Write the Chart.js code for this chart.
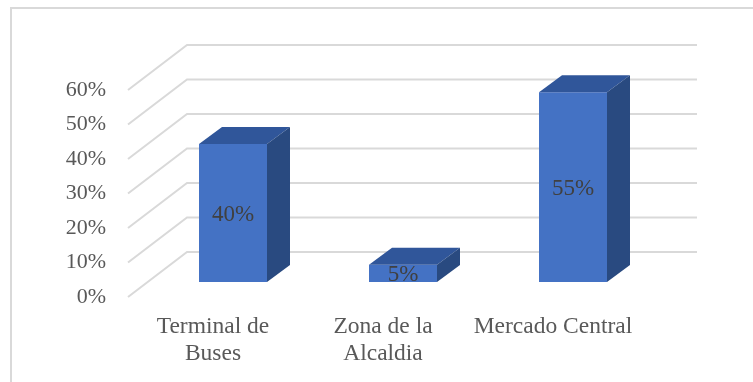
<!DOCTYPE html>
<html>
<head>
<meta charset="utf-8">
<script src="https://cdn.jsdelivr.net/npm/chart.js@4.4.0/dist/chart.umd.min.js"></script>
<style>
  body { margin: 0; background: #fff; }
  #wrap { width: 753px; height: 382px; }
</style>
</head>
<body>
<div id="wrap"><canvas id="chart" width="753" height="382"></canvas></div>
<script>
// Data
const categories = [['Terminal de', 'Buses'], ['Zona de la', 'Alcaldia'], 'Mercado Central'];
const percentages = [40, 5, 55];
const yTicks = [0, 10, 20, 30, 40, 50, 60];

// 3D look
const BACK = { dx: 59, dy: -45 };   // front plane -> back wall
const SHIFT = { dx: 20, dy: -15 };  // front plane -> bar front face
const DEPTH = { dx: 23, dy: -17 };  // bar front face -> bar back
const FRONT = '#4472c4';
const TOP = '#30569a';
const SIDE = '#294a80';

const frame = {
  id: 'frame',
  beforeDraw(chart) {
    const ctx = chart.ctx;
    ctx.save();
    ctx.strokeStyle = '#d9d9d9';
    ctx.lineWidth = 2;
    ctx.beginPath();
    ctx.moveTo(11, 382);
    ctx.lineTo(11, 8);
    ctx.lineTo(753, 8);
    ctx.stroke();
    ctx.restore();
  }
};

// grid: diagonal on the side wall + horizontal line on back wall
const walls = {
  id: 'walls',
  beforeDatasetsDraw(chart) {
    const ctx = chart.ctx;
    const y = chart.scales.y;
    const area = chart.chartArea;
    ctx.save();
    ctx.strokeStyle = '#d9d9d9';
    ctx.lineWidth = 2;
    ctx.beginPath();
    y.ticks.forEach(t => {
      const py = y.getPixelForValue(t.value);
      ctx.moveTo(area.left, py);
      ctx.lineTo(area.left + BACK.dx, py + BACK.dy);
      ctx.lineTo(area.right + BACK.dx, py + BACK.dy);
    });
    ctx.stroke();
    ctx.restore();
  }
};

const boxes = {
  id: 'boxes',
  beforeDatasetDraw(chart) {
    chart.ctx.save();
    chart.ctx.translate(SHIFT.dx, SHIFT.dy);
  },
  afterDatasetDraw(chart, args) {
    const ctx = chart.ctx;
    const meta = args.meta;
    meta.data.forEach((bar, i) => {
      const l = bar.x - bar.width / 2;
      const r = bar.x + bar.width / 2;
      const t = bar.y;
      const b = bar.base;
      // top
      ctx.fillStyle = TOP;
      ctx.beginPath();
      ctx.moveTo(l, t);
      ctx.lineTo(l + DEPTH.dx, t + DEPTH.dy);
      ctx.lineTo(r + DEPTH.dx, t + DEPTH.dy);
      ctx.lineTo(r, t);
      ctx.closePath();
      ctx.fill();
      // side
      ctx.fillStyle = SIDE;
      ctx.beginPath();
      ctx.moveTo(r, t);
      ctx.lineTo(r + DEPTH.dx, t + DEPTH.dy);
      ctx.lineTo(r + DEPTH.dx, b + DEPTH.dy);
      ctx.lineTo(r, b);
      ctx.closePath();
      ctx.fill();
      // label
      ctx.fillStyle = '#404040';
      ctx.font = '23px "Liberation Serif"';
      ctx.textAlign = 'center';
      ctx.textBaseline = 'middle';
      ctx.fillText(percentages[i] + '%', bar.x, (t + b) / 2 + 2);
    });
    ctx.restore();
  }
};

new Chart(document.getElementById('chart'), {
  type: 'bar',
  data: {
    labels: categories,
    datasets: [{
      data: percentages,
      backgroundColor: FRONT,
      borderWidth: 0,
      categoryPercentage: 1,
      barPercentage: 0.4
    }]
  },
  options: {
    responsive: false,
    animation: false,
    devicePixelRatio: 1,
    layout: { padding: { left: 0, right: 115, top: 90, bottom: 0 } },
    plugins: {
      legend: { display: false },
      tooltip: { enabled: false }
    },
    scales: {
      x: {
        grid: { display: false },
        border: { display: false },
        ticks: {
          color: '#595959',
          font: { family: 'Liberation Serif', size: 23.5, lineHeight: 1.15 },
          padding: 8,
          maxRotation: 0,
          autoSkip: false
        },
        afterFit(scale) { scale.height = 85; }
      },
      y: {
        min: 0,
        max: 60,
        grid: { display: false },
        border: { display: false },
        afterBuildTicks(scale) { scale.ticks = yTicks.map(v => ({ value: v })); },
        ticks: {
          color: '#595959',
          font: { family: 'Liberation Serif', size: 22 },
          padding: 14,
          callback: v => v + '%'
        },
        afterFit(scale) { scale.width = 128; }
      }
    }
  },
  plugins: [frame, walls, boxes]
});
</script>
</body>
</html>
